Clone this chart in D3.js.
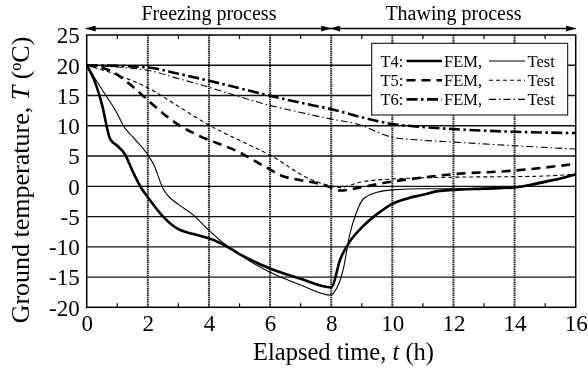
<!DOCTYPE html>
<html>
<head>
<meta charset="utf-8">
<script src="https://cdn.jsdelivr.net/npm/d3@7/dist/d3.min.js"></script>
<style>
  html, body { margin: 0; padding: 0; background: #fff; }
  svg { will-change: transform; }
  svg text { font-family: "Liberation Serif", "Times New Roman", serif; fill: #000; }
</style>
</head>
<body>
<svg id="chart" width="588" height="374"></svg>
<script>
// Ground temperature during the freezing (0–8 h) and thawing (8–16 h) stages
const xTicks = [0, 2, 4, 6, 8, 10, 12, 14, 16];
const yTicks = [-20, -15, -10, -5, 0, 5, 10, 15, 20, 25];

// T4 – finite element result
const t4FemTime = [0, 0.25, 0.5, 0.77, 1.0, 1.25, 1.5, 1.8, 2.0, 2.5, 3.0, 3.5, 4.0, 4.5, 5.0, 6.0, 7.0, 8.0,
                   8.3, 8.6, 9.0, 9.5, 10.0, 10.5, 11.0, 11.5, 12.0, 13.0, 14.0, 15.0, 15.5, 16.0];
const t4FemTemp = [20, 17.5, 13.5, 7.8, 6.7, 5.3, 2.5, -0.4, -1.8, -5.0, -7.1, -7.9, -8.6, -9.7, -11.2, -13.6, -15.3, -16.7,
                   -12.0, -9.2, -6.8, -4.6, -2.9, -2.0, -1.4, -0.8, -0.6, -0.4, -0.2, 0.8, 1.3, 2.0];

// T4 – measured
const t4TestTime = [0, 0.5, 1.0, 1.2, 1.5, 2.0, 2.2, 2.5, 2.65, 3.0, 3.5, 4.0, 4.5, 5.0, 6.0, 7.0, 8.0,
                    8.1, 8.4, 8.6, 8.85, 9.05, 9.5, 10.0, 11.0, 12.0, 13.0, 14.0, 15.0, 16.0];
const t4TestTemp = [20, 16.0, 12.0, 10.0, 8.2, 5.2, 3.5, -0.4, -1.5, -3.0, -4.8, -7.3, -9.5, -11.3, -14.2, -16.3, -18.0,
                    -17.5, -13.6, -8.1, -4.0, -2.1, -1.0, -0.6, -0.4, -0.4, -0.3, -0.2, 0.6, 2.0];

// T5 – finite element result
const t5FemTime = [0, 0.77, 1.5, 2.07, 3.05, 3.7, 5.0, 5.78, 6.4, 7.0, 7.63, 8.0, 8.3, 8.94, 9.9, 10.6, 12.0, 14.0, 16.0];
const t5FemTemp = [20, 19.1, 16.5, 13.9, 10.0, 8.3, 5.6, 3.4, 1.7, 1.0, 0.4, -0.2, -0.7, -0.2, 0.7, 1.2, 2.0, 2.6, 3.7];

// T5 – measured
const t5TestTime = [0, 1.0, 2.07, 3.0, 4.04, 5.0, 6.05, 7.3, 7.96, 8.3, 8.94, 10.0, 12.0, 14.0, 15.0, 16.0];
const t5TestTemp = [20, 18.4, 16.1, 13.2, 10.0, 7.6, 5.0, 1.2, 0.1, -0.2, 0.66, 1.2, 1.5, 1.6, 1.7, 2.0];

// T6 – finite element result
const t6FemTime = [0, 1.0, 2.07, 3.0, 4.04, 5.0, 6.05, 7.0, 8.0, 9.0, 10.0, 11.0, 12.0, 14.0, 16.0];
const t6FemTemp = [20, 19.9, 19.6, 18.6, 17.4, 16.2, 14.9, 13.8, 12.75, 11.4, 10.3, 9.8, 9.45, 9.0, 8.8];

// T6 – measured
const t6TestTime = [0, 1.0, 2.07, 3.0, 4.04, 5.0, 6.05, 7.0, 8.0, 8.84, 10.0, 11.0, 12.0, 14.0, 16.0];
const t6TestTemp = [20, 19.7, 19.1, 17.8, 16.3, 14.8, 13.3, 12.2, 11.1, 10.3, 8.1, 7.6, 7.3, 6.7, 6.15];

const series = [
  { label: "T4", kind: "FEM",  t: t4FemTime,  v: t4FemTemp,  width: 2.6, dash: null },
  { label: "T4", kind: "Test", t: t4TestTime, v: t4TestTemp, width: 1.1, dash: null },
  { label: "T5", kind: "FEM",  t: t5FemTime,  v: t5FemTemp,  width: 2.6, dash: "9,6" },
  { label: "T5", kind: "Test", t: t5TestTime, v: t5TestTemp, width: 1.1, dash: "4,3" },
  { label: "T6", kind: "FEM",  t: t6FemTime,  v: t6FemTemp,  width: 2.6, dash: "11,3.5,2.5,3.5" },
  { label: "T6", kind: "Test", t: t6TestTime, v: t6TestTemp, width: 1.1, dash: "7,3,1.5,3" }
];

const svg = d3.select("#chart");
const plotL = 86.7, plotR = 575.7, plotT = 35, plotB = 307.3;

const x = d3.scaleLinear().domain([0, 16]).range([plotL, plotR]);
const y = d3.scaleLinear().domain([-20, 25]).range([plotB, plotT]);

// gridlines
const grid = svg.append("g");
grid.selectAll("line.h").data(yTicks.filter(d => d > -20 && d < 25)).join("line")
  .attr("x1", plotL).attr("x2", plotR)
  .attr("y1", d => y(d)).attr("y2", d => y(d))
  .attr("stroke", "#111").attr("stroke-width", 1.3);
grid.selectAll("line.v").data(xTicks.filter(d => d > 0 && d < 16)).join("line")
  .attr("x1", d => x(d)).attr("x2", d => x(d))
  .attr("y1", plotT).attr("y2", plotB)
  .attr("stroke", "#222").attr("stroke-width", 2).attr("stroke-dasharray", "1.5,0.7");

// minor ticks at odd hours, pointing inward on top and bottom
const minor = d3.range(1, 16, 2);
svg.append("g").selectAll("line").data(minor).join("line")
  .attr("x1", d => x(d)).attr("x2", d => x(d))
  .attr("y1", plotB).attr("y2", plotB - 4)
  .attr("stroke", "#000").attr("stroke-width", 1.2);
svg.append("g").selectAll("line").data(minor).join("line")
  .attr("x1", d => x(d)).attr("x2", d => x(d))
  .attr("y1", plotT).attr("y2", plotT + 4)
  .attr("stroke", "#000").attr("stroke-width", 1.2);

// axes
const xAxis = d3.axisBottom(x).tickValues(xTicks).tickSize(0).tickPadding(7).tickFormat(d => String(d));
const yAxis = d3.axisLeft(y).tickValues(yTicks).tickSize(0).tickPadding(7).tickFormat(d => String(d));
const gx = svg.append("g").attr("transform", `translate(0,${plotB})`).call(xAxis);
const gy = svg.append("g").attr("transform", `translate(${plotL},0)`).call(yAxis);
[gx, gy].forEach(g => {
  g.select(".domain").remove();
  g.selectAll("text").style("font-family", '"Liberation Serif", serif').style("font-size", "23px").attr("fill", "#000");
});
gy.selectAll("text").attr("dy", "0.34em");

// data lines
const line = d3.line().x(d => x(d[0])).y(d => y(d[1])).curve(d3.curveMonotoneX);
svg.append("g").selectAll("path").data(series).join("path")
  .attr("d", s => line(s.t.map((t, i) => [t, s.v[i]])))
  .attr("fill", "none").attr("stroke", "#000")
  .attr("stroke-width", s => s.width)
  .attr("stroke-dasharray", s => s.dash)
  .attr("stroke-linejoin", "round");

// plot frame
svg.append("rect").attr("x", plotL).attr("y", plotT)
  .attr("width", plotR - plotL).attr("height", plotB - plotT)
  .attr("fill", "none").attr("stroke", "#000").attr("stroke-width", 1.5);

// legend
const lg = svg.append("g");
lg.append("rect").attr("x", 371.7).attr("y", 43.3).attr("width", 196).attr("height", 71.7)
  .attr("fill", "#fff").attr("stroke", "#000").attr("stroke-width", 1);
const labels = ["T4", "T5", "T6"];
labels.forEach((lab, i) => {
  const ry = 61 + i * 19.2;
  const fem = series.find(s => s.label === lab && s.kind === "FEM");
  const test = series.find(s => s.label === lab && s.kind === "Test");
  lg.append("text").attr("x", 380.5).attr("y", ry + 6).style("font-size", "16.5px").text(lab + ":");
  lg.append("line").attr("x1", 406.5).attr("x2", 442).attr("y1", ry).attr("y2", ry)
    .attr("stroke", "#000").attr("stroke-width", fem.width).attr("stroke-dasharray", fem.dash);
  lg.append("text").attr("x", 444).attr("y", ry + 6).style("font-size", "16.5px").text("FEM,");
  lg.append("line").attr("x1", 489).attr("x2", 525).attr("y1", ry).attr("y2", ry)
    .attr("stroke", "#000").attr("stroke-width", test.width).attr("stroke-dasharray", test.dash);
  lg.append("text").attr("x", 527.5).attr("y", ry + 6).style("font-size", "16.5px").text("Test");
});

// process spans with double-headed arrows
const defs = svg.append("defs");
defs.append("marker").attr("id", "ah").attr("viewBox", "0 0 10 6").attr("refX", 10).attr("refY", 3)
  .attr("markerWidth", 10).attr("markerHeight", 6).attr("markerUnits", "userSpaceOnUse")
  .attr("orient", "auto-start-reverse")
  .append("path").attr("d", "M0,0 L10,3 L0,6 Z").attr("fill", "#000");
const phases = [
  { name: "Freezing process", from: 0, to: 8 },
  { name: "Thawing process", from: 8, to: 16 }
];
phases.forEach(p => {
  svg.append("line").attr("x1", x(p.from) - 1).attr("x2", x(p.to))
    .attr("y1", 28.5).attr("y2", 28.5)
    .attr("stroke", "#000").attr("stroke-width", 1.4)
    .attr("marker-start", "url(#ah)").attr("marker-end", "url(#ah)");
  svg.append("text").attr("x", (x(p.from) + x(p.to)) / 2).attr("y", 20)
    .attr("text-anchor", "middle").style("font-size", "20px").text(p.name);
});

// axis titles
svg.append("text").attr("x", 343.5).attr("y", 359.5)
  .attr("text-anchor", "middle").attr("fill", "#000").style("font-size", "24.5px")
  .html('Elapsed time, <tspan font-style="italic">t</tspan> (h)');
svg.append("text").attr("transform", `translate(29,180) rotate(-90)`)
  .attr("text-anchor", "middle").attr("fill", "#000").style("font-size", "26px")
  .html('Ground temperature, <tspan font-style="italic">T</tspan> (<tspan baseline-shift="super" font-size="16px">o</tspan>C)');
</script>
</body>
</html>
